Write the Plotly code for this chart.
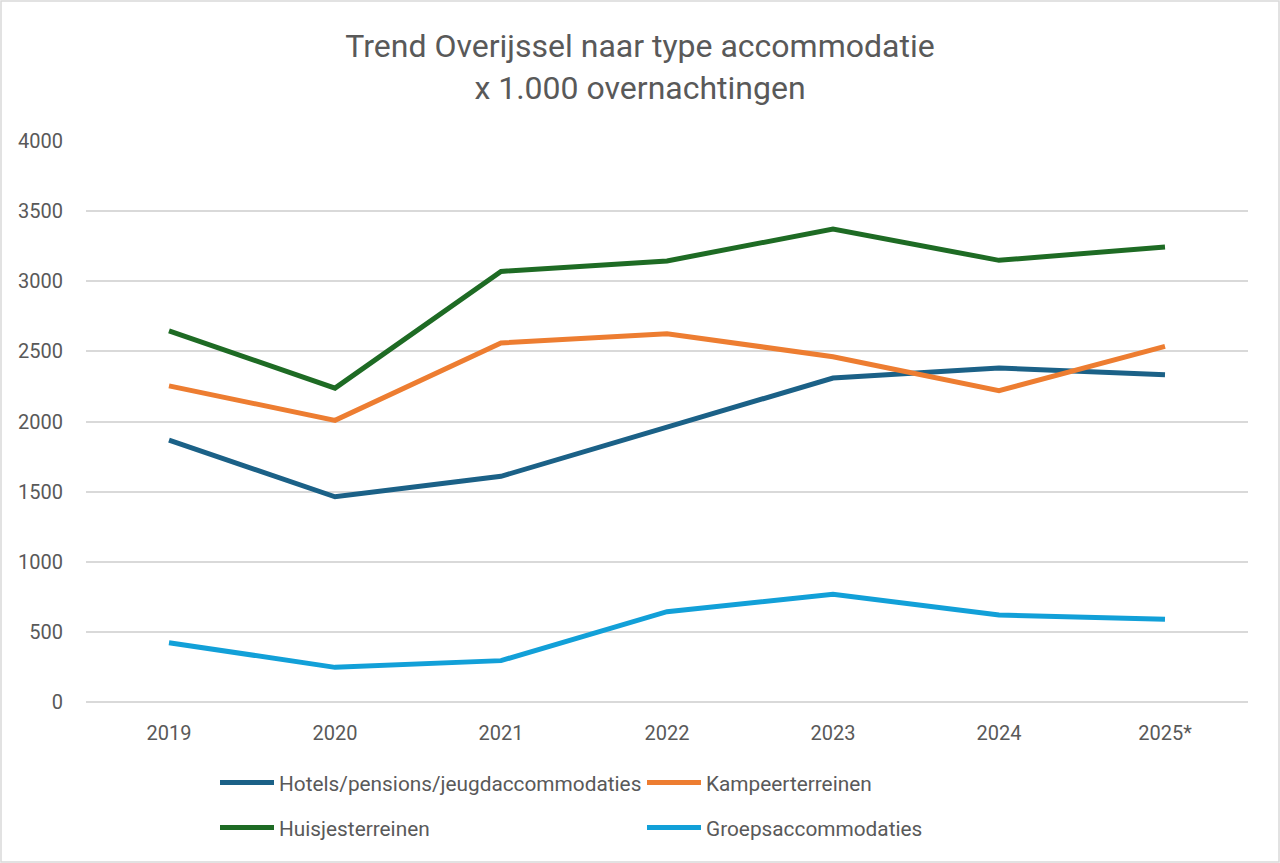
import plotly.graph_objects as go

years = ["2019", "2020", "2021", "2022", "2023", "2024", "2025*"]
hotels = [1867, 1463, 1609, 1957, 2310, 2381, 2334]
kampeer = [2254, 2008, 2560, 2626, 2462, 2220, 2536]
huisjes = [2646, 2238, 3070, 3145, 3372, 3149, 3245]
groeps = [423, 247, 295, 644, 768, 620, 590]

names = ["Hotels/pensions/jeugdaccommodaties", "Kampeerterreinen",
         "Huisjesterreinen", "Groepsaccommodaties"]
colors = ["#1B6187", "#ED7D31", "#1E6B24", "#12A0D8"]
legends = ["legend", "legend", "legend2", "legend2"]
series = [hotels, kampeer, huisjes, groeps]

W, H = 1280, 863
ml, mr, mt, mb = 86, 32, 141, 161
pw, ph = W - ml - mr, H - mt - mb

fig = go.Figure()
for name, vals, col, lg in zip(names, series, colors, legends):
    fig.add_trace(go.Scatter(x=years, y=vals, name=name, mode="lines",
                             line=dict(color=col, width=5), legend=lg))

font = "Roboto, Liberation Sans, sans-serif"
grey = "#595959"

def px_x(p):
    return (p - ml) / pw

def px_y(p):
    return (H - mb - p) / ph

legend_common = dict(orientation="h", xanchor="left", yanchor="middle",
                     entrywidth=358, entrywidthmode="pixels",
                     font=dict(family=font, size=20.8, color=grey),
                     bgcolor="rgba(0,0,0,0)", itemwidth=54,
                     traceorder="normal")

fig.update_layout(
    width=W, height=H,
    margin=dict(l=ml, r=mr, t=mt, b=mb),
    paper_bgcolor="white", plot_bgcolor="white",
    title=dict(text="Trend Overijssel naar type accommodatie<br>x 1.000 overnachtingen",
               x=0.5, xanchor="center", y=1 - 57 / H, yanchor="middle",
               font=dict(family=font, size=32, color=grey)),
    xaxis=dict(type="category", range=[-0.5, len(years) - 0.5],
               showgrid=False, showline=False, zeroline=False,
               tickfont=dict(family=font, size=20, color=grey),
               ticks="", ticklabelstandoff=17),
    yaxis=dict(range=[0, 4000], dtick=500, showgrid=True,
               gridcolor="#D9D9D9", gridwidth=1.5, zeroline=True,
               zerolinecolor="#D9D9D9", zerolinewidth=1.5,
               showline=False, ticks="",
               tickfont=dict(family=font, size=20, color=grey),
               ticklabelstandoff=22),
    legend=dict(x=px_x(215), y=px_y(783), **legend_common),
    legend2=dict(x=px_x(215), y=px_y(828), **legend_common),
    showlegend=True,
    shapes=[dict(type="rect", xref="paper", yref="paper",
                 x0=px_x(1), x1=px_x(W - 1), y0=px_y(H - 1), y1=px_y(1),
                 line=dict(color="#D9D9D9", width=1.5), layer="below")],
)

fig.write_html("out.html", config={"displayModeBar": False},
               post_script="document.body.style.margin='0';document.body.style.overflow='hidden';")
